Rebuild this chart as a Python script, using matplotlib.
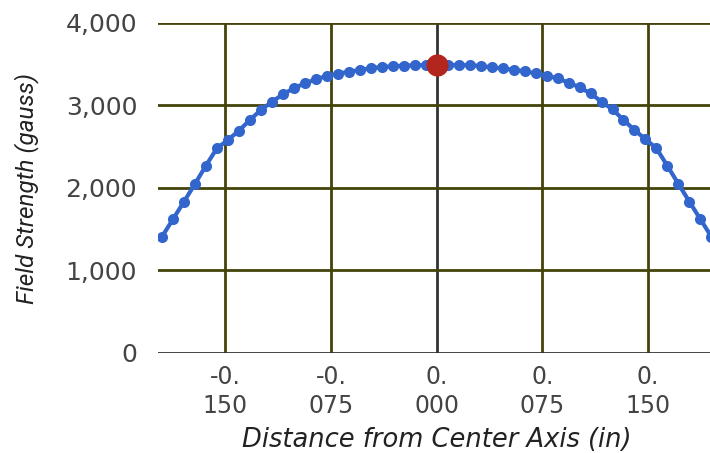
import numpy as np
import matplotlib.pyplot as plt

# distance from the center axis, inches
distance = [
    -0.195, -0.1872, -0.1794, -0.1716, -0.1638, -0.156, -0.1482, -0.1404,
    -0.1326, -0.1248, -0.117, -0.1092, -0.1014, -0.0936, -0.0858, -0.078,
    -0.0702, -0.0624, -0.0546, -0.0468, -0.039, -0.0312, -0.0234, -0.0156,
    -0.0078, 0.0,
    0.0078, 0.0156, 0.0234, 0.0312, 0.039, 0.0468, 0.0546, 0.0624,
    0.0702, 0.078, 0.0858, 0.0936, 0.1014, 0.1092, 0.117, 0.1248,
    0.1326, 0.1404, 0.1482, 0.156, 0.1638, 0.1716, 0.1794, 0.1872, 0.195,
]

# measured field strength, gauss
strength = [
    1406, 1617, 1830, 2045, 2267, 2477, 2578, 2691, 2820, 2942,
    3039, 3132, 3205, 3265, 3314, 3354, 3382, 3406, 3427, 3447,
    3463, 3472, 3479, 3484, 3487, 3490,
    3487, 3487, 3484, 3475, 3459, 3447, 3427, 3411, 3387, 3358,
    3326, 3273, 3217, 3144, 3042, 2950, 2821, 2699, 2587, 2477,
    2263, 2045, 1830, 1617, 1406,
]

peak_x = 0.0
peak_y = 3490

xticks = [-0.15, -0.075, 0.0, 0.075, 0.15]
xtick_labels = ["-0.\n150", "-0.\n075", "0.\n000", "0.\n075", "0.\n150"]
yticks = [0, 1000, 2000, 3000, 4000]
ytick_labels = ["0", "1,000", "2,000", "3,000", "4,000"]

GRID = "#44440a"
DARK = "#333333"
LINE = "#3366cc"
PEAK = "#b3261e"
TEXT = "#444444"

fig = plt.figure(figsize=(7.1, 4.53), dpi=100)
ax = fig.add_axes([158 / 710, 100.3 / 453, 552 / 710, 330 / 453])

ax.set_xlim(-0.1978, 0.194)
ax.set_ylim(0, 4000)

# grid lines drawn by hand so the zero lines can be darker
for t in xticks:
    ax.axvline(t, color=DARK if t == 0 else GRID, lw=2.0, zorder=1)
for t in yticks:
    ax.axhline(t, color=DARK if t == 0 else GRID, lw=2.0, zorder=1)

ax.plot(distance, strength, color=LINE, lw=3.0, marker="o", ms=8,
        markeredgewidth=0, zorder=3)
ax.plot([peak_x], [peak_y], "o", color=PEAK, ms=16, markeredgewidth=0,
        zorder=4)

ax.set_xticks(xticks)
ax.set_xticklabels(xtick_labels, fontsize=17, color=TEXT, linespacing=1.25,
                   family="DejaVu Sans")
ax.set_yticks(yticks)
ax.set_yticklabels(ytick_labels, fontsize=18, color=TEXT,
                   family="DejaVu Sans")
ax.tick_params(axis="both", length=0)
ax.tick_params(axis="x", pad=9)
ax.tick_params(axis="y", pad=15)

for s in ax.spines.values():
    s.set_visible(False)

# axis titles placed in figure pixels
fig.text(437 / 710, 1 - 440 / 453, "Distance from Center Axis (in)",
         fontsize=18.5, style="italic", color="#222222", family="DejaVu Sans",
         ha="center", va="center")
fig.text(27 / 710, 1 - 189 / 453, "Field Strength (gauss)", rotation=90,
         fontsize=17.5, style="italic", color="#222222", family="Roboto",
         ha="center", va="center")

fig.savefig("out.png", dpi=100, facecolor="white")
